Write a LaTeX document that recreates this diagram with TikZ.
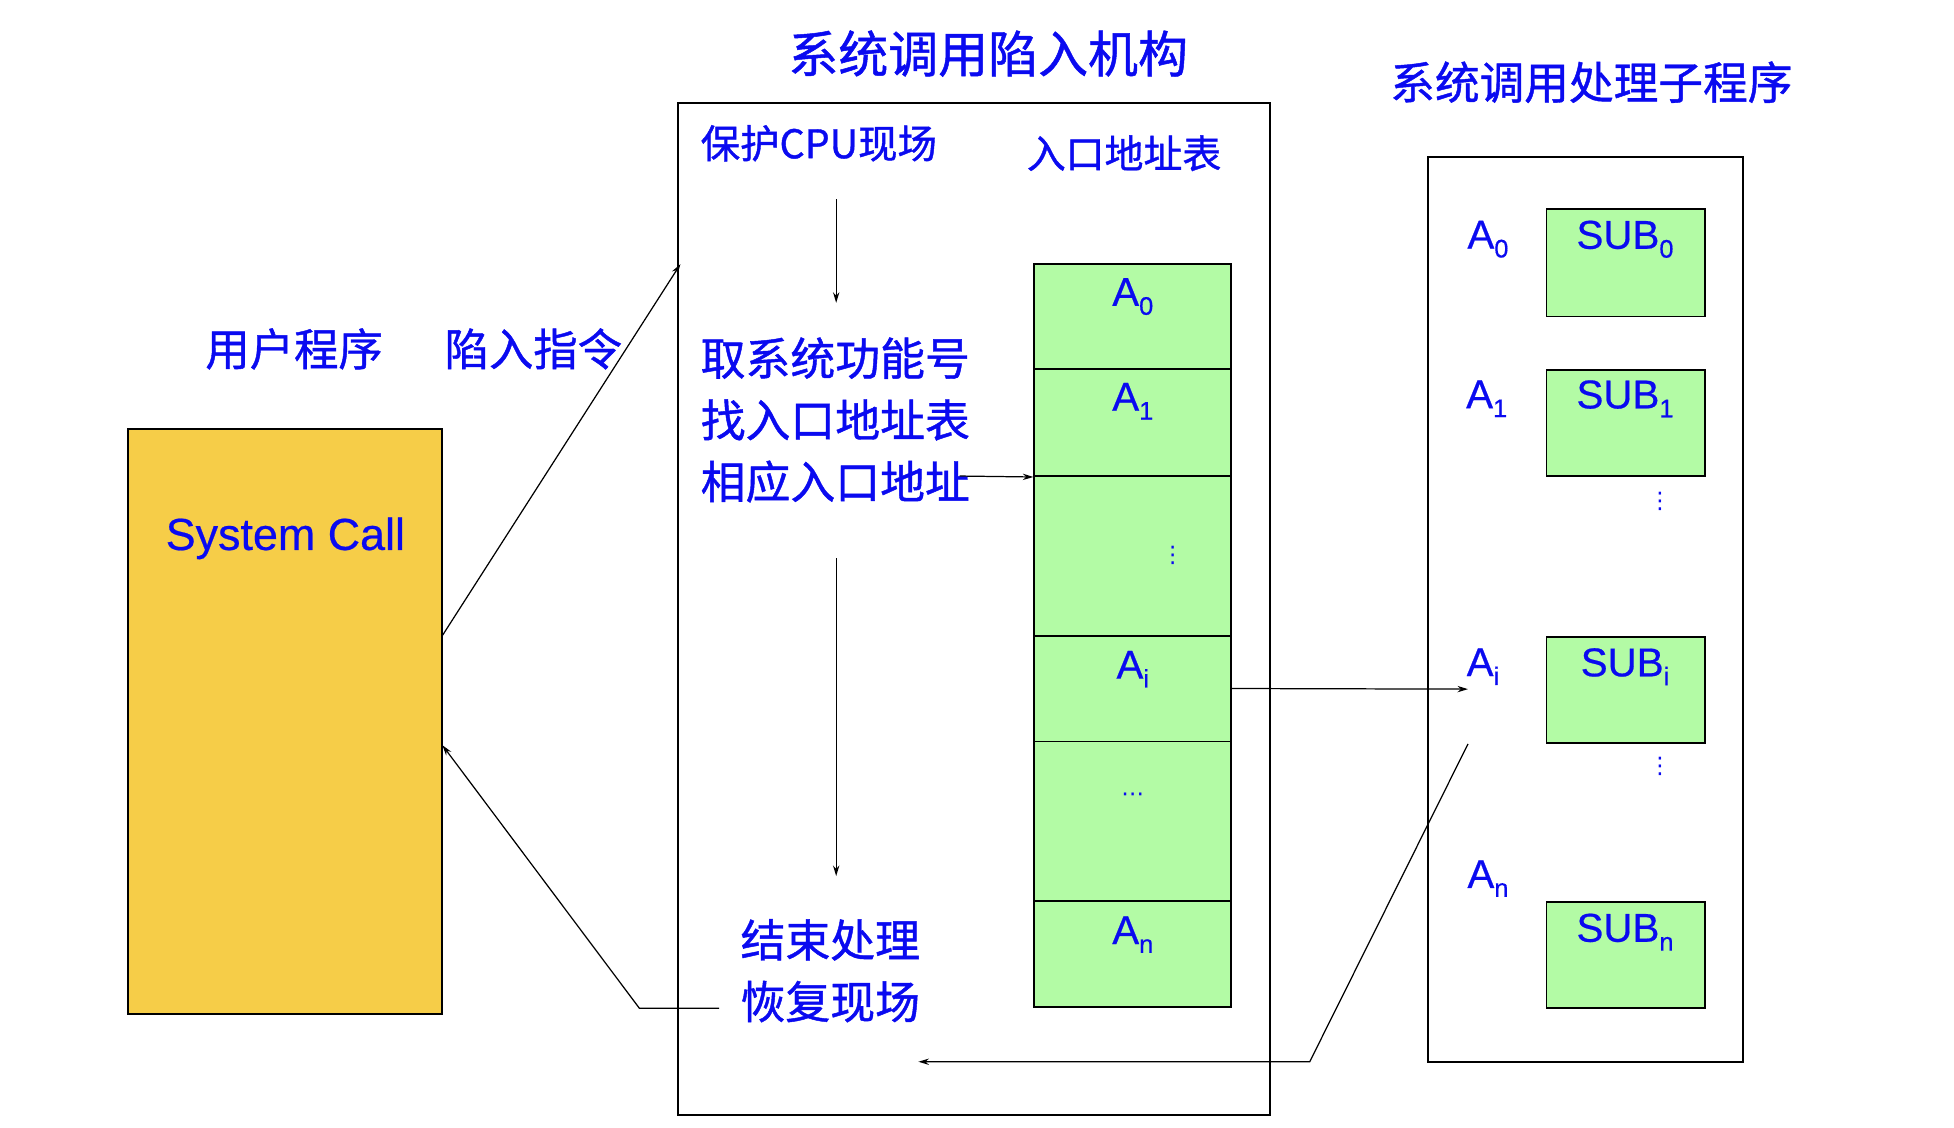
\documentclass[tikz,border=0pt]{standalone}
\usepackage{fontspec}
\setmainfont[FakeBold=0.5]{Liberation Sans}
\newfontfamily\cjk[FakeBold=1]{Noto Sans CJK SC}
\newfontfamily\dejavu{DejaVu Sans}
\usetikzlibrary{fit,arrows.meta,calc}
\definecolor{txtblue}{RGB}{10,10,240}
\definecolor{boxgreen}{RGB}{179,251,165}
\definecolor{boxyellow}{RGB}{246,205,72}
\newcommand\fs[1]{\fontsize{#1pt}{#1pt}\selectfont}
\newcommand\lowsub[1]{\raisebox{-0.22em}{\fontsize{14.5pt}{14.5pt}\selectfont #1}}
\begin{document}
\begin{tikzpicture}[x=0.025cm,y=-0.025cm,
  frame/.style={draw=black, line width=1.1pt, inner sep=0pt},
  greenbox/.style={frame, fill=boxgreen},
  lbl/.style={text=txtblue, inner sep=0pt},
  sym/.style={lbl, font=\fs{23}},
  dots/.style={lbl, font=\dejavu\fs{13}},
  conn/.style={line width=0.7pt, -{Stealth[length=6pt,width=3.6pt]}}
]
\useasboundingbox (0,0) rectangle (1568,905);

% frames
\node[frame, fill=boxyellow, fit={(103,344) (355,814)}] (user) {};
\node[frame, fit={(544,83) (1019,895)}] (mech) {};
\node[frame, fit={(1146,126) (1399,852)}] (subs) {};

% titles
\node[lbl, font=\cjk\fs{28.5}] (t1) at (793,43) {系统调用陷入机构};
\node[lbl, font=\cjk\fs{25.5}] (t2) at (1277,66) {系统调用处理子程序};
\node[lbl, font=\cjk\fs{25.3}] (t3) at (236,280) {用户程序};
\node[lbl, font=\cjk\fs{25.3}] (t4) at (428,280) {陷入指令};
\node[lbl, font=\fs{25.6}] (sc) at (229,432) {System Call};

% mechanism texts
\node[lbl, font=\cjk\fs{22.5}, anchor=west] (save) at (562,115) {保护CPU现场};
\node[lbl, font=\cjk\fs{22.2}] (tabt) at (902,123) {入口地址表};
\node[lbl, font=\cjk\fontsize{25.6pt}{35.2pt}\selectfont, align=left, anchor=west] (get) at (562,337)
  {取系统功能号\\找入口地址表\\相应入口地址};
\node[lbl, font=\cjk\fontsize{25.6pt}{35.2pt}\selectfont, align=left, anchor=west] (fin) at (594,779)
  {结束处理\\恢复现场};

% table rows
\node[greenbox, fit={(830,212) (988,296)}] (r0) {};
\node[greenbox, fit={(830,296) (988,382)}] (r1) {};
\node[greenbox, fit={(830,382) (988,510)}] (r2) {};
\node[greenbox, fit={(830,510) (988,595)}] (ri) {};
\node[greenbox, fit={(830,595) (988,723)}] (r3) {};
\node[greenbox, fit={(830,723) (988,808)}] (rn) {};
\node[sym] (la0) at (909,238) {A\lowsub{0}};
\node[sym] (la1) at (909,322) {A\lowsub{1}};
\node[dots] (ld1) at (941,446) {⋮};
\node[sym] (lai) at (909,537) {A\lowsub{i}};
\node[dots] (ld2) at (909,640) {⋯};
\node[sym] (lan) at (909,750) {A\lowsub{n}};

% subroutine boxes
\node[greenbox, fit={(1241,168) (1368,254)}] (s0) {};
\node[greenbox, fit={(1241,297) (1368,382)}] (s1) {};
\node[greenbox, fit={(1241,511) (1368,596)}] (si) {};
\node[greenbox, fit={(1241,724) (1368,809)}] (sn) {};
\node[sym] (ls0) at (1304,192) {SUB\lowsub{0}};
\node[sym] (ls1) at (1304,320) {SUB\lowsub{1}};
\node[sym] (lsi) at (1304,535) {SUB\lowsub{i}};
\node[sym] (lsn) at (1304,748) {SUB\lowsub{n}};
\node[sym] (b0) at (1194,192) {A\lowsub{0}};
\node[sym] (b1) at (1193,320) {A\lowsub{1}};
\node[sym] (bi) at (1190,535) {A\lowsub{i}};
\node[sym] (bn) at (1194,705) {A\lowsub{n}};
\node[dots] (sd1) at (1332,402) {⋮};
\node[dots] (sd2) at (1332,615) {⋮};

% connector end points
\coordinate (trapout) at (355,510);
\coordinate (trapin) at (546,212);
\coordinate (a1s) at (671,160);
\coordinate (a1e) at (671,243);
\coordinate (a2s) at (671,448);
\coordinate (a2e) at (671,703);
\coordinate (lk) at (770,382);
\coordinate (aiend) at (1178,553);
\coordinate (rets) at (1178,597);
\coordinate (retk) at (1051,852);
\coordinate (rete) at (737,852);
\coordinate (bks) at (577,809);
\coordinate (bkk) at (513,809);
\coordinate (bke) at (355,598);

% connectors
\draw[conn] (trapout) -- (trapin);
\draw[conn] (a1s) -- (a1e);
\draw[conn] (a2s) -- (a2e);
\draw[conn] (lk) -- (r1.south west);
\draw[conn] (ri.east) -- (aiend);
\draw[conn] (rets) -- (retk) -- (rete);
\draw[conn] (bks) -- (bkk) -- (bke);
\end{tikzpicture}
\end{document}
